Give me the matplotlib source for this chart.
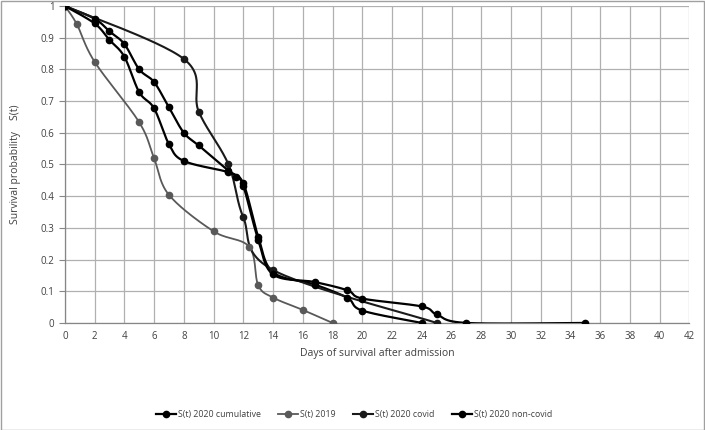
import numpy as np
import matplotlib
matplotlib.use('Agg')
import matplotlib.pyplot as plt
from matplotlib.lines import Line2D

plt.rcParams['font.family'] = ['Open Sans', 'DejaVu Sans']

# survival data (days, S(t))
cum_days = [0, 2, 3, 4, 5, 6, 7, 8, 9, 11, 12, 13, 14, 16.8, 19, 20, 24]
cum_s = [1, 0.96, 0.92, 0.88, 0.80, 0.76, 0.68, 0.60, 0.56, 0.48, 0.44, 0.272, 0.16, 0.121, 0.079, 0.039, 0]

y2019_days = [0, 0.8, 2, 5, 6, 7, 10, 12.4, 13, 14, 16, 18]
y2019_s = [1, 0.943, 0.824, 0.633, 0.519, 0.404, 0.289, 0.24, 0.119, 0.08, 0.041, 0]

covid_days = [0, 8, 9, 11, 12, 14, 25]
covid_s = [1, 0.833, 0.667, 0.5, 0.333, 0.167, 0]

noncovid_days = [0, 2, 3, 4, 5, 6, 7, 8, 11, 11.5, 12, 13, 14, 16.8, 19, 20, 24, 25, 27, 35]
noncovid_s = [1, 0.945, 0.893, 0.84, 0.728, 0.677, 0.564, 0.511, 0.476, 0.461, 0.432, 0.263, 0.153, 0.129, 0.103, 0.077, 0.052, 0.027, 0, 0]

labels = ['S(t) 2020 cumulative', 'S(t) 2019', 'S(t) 2020 covid', 'S(t) 2020 non-covid']
colors = ['#000000', '#595959', '#1a1a1a', '#000000']
widths = [1.6, 1.3, 1.5, 1.6]


def smooth(xs, ys, n=30):
    # excel style smoothed line (cardinal bezier through the points)
    P = np.column_stack([xs, ys]).astype(float)
    P = np.vstack([P[0], P, P[-1]])
    out = []
    for i in range(1, len(P) - 2):
        p0, p1, p2, p3 = P[i - 1], P[i], P[i + 1], P[i + 2]
        c1 = p1 + (p2 - p0) / 6
        c2 = p2 - (p3 - p1) / 6
        t = np.linspace(0, 1, n)[:, None]
        b = ((1 - t) ** 3) * p1 + 3 * ((1 - t) ** 2) * t * c1 + 3 * (1 - t) * t ** 2 * c2 + t ** 3 * p2
        out.append(b)
    out = np.vstack(out)
    return out[:, 0], out[:, 1]


fig = plt.figure(figsize=(7.05, 4.3), dpi=100)
ax = fig.add_axes([0.092, 0.249, 0.886, 0.737])

series = [(cum_days, cum_s), (y2019_days, y2019_s), (covid_days, covid_s), (noncovid_days, noncovid_s)]
handles = []
for (d, s), lab, c, w in zip(series, labels, colors, widths):
    sx, sy = smooth(d, s)
    ax.plot(sx, sy, color=c, lw=w, zorder=3)
    ax.plot(d, s, 'o', color=c, ms=4.5, zorder=4)
    handles.append(Line2D([], [], color=c, lw=w, marker='o', ms=4.5))

ax.set_xlim(0, 42)
ax.set_ylim(0, 1)
ax.set_xticks(np.arange(0, 43, 2))
ax.set_yticks(np.round(np.arange(0, 1.01, 0.1), 1))
ax.set_yticklabels(['0'] + ['%.1f' % v for v in np.arange(0.1, 0.95, 0.1)] + ['1'])
ax.grid(True, color='#b0b0b0', lw=0.9)
ax.set_axisbelow(True)
for sp in ['top', 'right']:
    ax.spines[sp].set_visible(False)
for sp in ['left', 'bottom']:
    ax.spines[sp].set_color('#868686')
    ax.spines[sp].set_linewidth(0.9)
ax.tick_params(axis='both', labelsize=7, colors='#868686', labelcolor='#404040', length=4, width=0.8)
ax.tick_params(axis='x', length=0, pad=6)

ax.set_xlabel('Days of survival after admission', fontsize=7.5, color='#404040', labelpad=4)
ax.set_ylabel('Survival probability    S(t)', fontsize=7.5, color='#404040', labelpad=14)

fig.legend(handles, labels, loc='center', bbox_to_anchor=(0.502, 0.037), ncol=4, frameon=False,
           fontsize=6.3, handlelength=2.3, columnspacing=2.0, handletextpad=0.2, labelcolor='#404040')

# outer chart border
fig.patches.append(plt.Rectangle((0.001, 0.001), 0.998, 0.997, transform=fig.transFigure,
                                 fill=False, edgecolor='#a0a0a0', lw=1))

fig.savefig('out.png', dpi=100)
